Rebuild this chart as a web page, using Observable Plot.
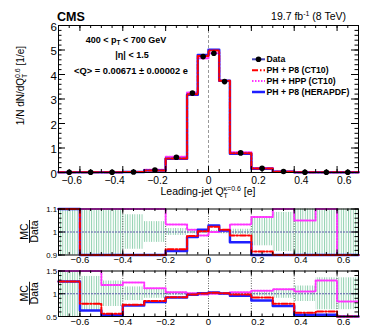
<!DOCTYPE html>
<html><head><meta charset="utf-8">
<script src="https://cdn.jsdelivr.net/npm/d3@7"></script>
<script src="https://cdn.jsdelivr.net/npm/@observablehq/plot@0.6"></script>
<style>
html,body{margin:0;padding:0;background:#fff;}
#chart{position:relative;width:365px;height:326px;overflow:hidden;background:#fff;}
#chart svg{position:absolute;left:0;}
</style></head><body><div id="chart"></div>
<script>
// ---- data ----
const binEdges = [-0.7,-0.6,-0.5,-0.4,-0.3,-0.2,-0.1,-0.05,0,0.05,0.1,0.2,0.3,0.4,0.5,0.6,0.7];
const dataMain  = [0.01,0.01,0.01,0.02,0.10,0.62,3.24,4.73,4.87,3.71,0.80,0.17,0.04,0.01,0.01,0.01];
const ct10Main  = [0.01,0.01,0.01,0.02,0.08,0.57,3.19,4.76,4.98,3.75,0.79,0.16,0.03,0.01,0.01,0.01];
const hppMain   = [0.02,0.02,0.01,0.02,0.11,0.64,3.27,4.66,4.87,3.73,0.83,0.18,0.04,0.01,0.01,0.01];
const heraMain  = [0.01,0.01,0.01,0.02,0.08,0.56,3.17,4.80,5.01,3.74,0.77,0.15,0.03,0.01,0.01,0.01];
// ratios MC/Data
const heraRatio = [1.27,0.63,0.53,0.74,0.82,0.917,0.978,1.010,1.028,1.006,0.955,0.85,0.73,0.54,0.54,0.49];
const ct10Ratio = [1.27,0.78,0.56,0.76,0.84,0.925,0.983,1.003,1.023,1.010,0.985,0.915,0.78,0.58,0.61,0.49];
const hppRatio  = [1.60,1.60,1.19,1.25,1.12,1.033,1.010,0.985,1.000,1.005,1.033,1.065,1.10,1.05,1.29,0.83];
// data uncertainty bands (half widths)
const band1 = [0.5,0.5,0.5,0.075,0.045,0.015,0.008,0.006,0.006,0.008,0.012,0.06,0.085,0.10,0.5,0.5];
const band2 = [0.6,0.38,0.28,0.15,0.10,0.04,0.02,0.015,0.015,0.02,0.03,0.05,0.10,0.17,0.35,0.35];
// ticks
const xMajor = [-0.6,-0.4,-0.2,0,0.2,0.4,0.6];
const yMainTicks = [0,1,2,3,4,5,6];
const yR1Ticks = [0.9,1,1.1];
const yR2Ticks = [0.5,1,1.5];
const legendLabels = ["Data","PH + P8 (CT10)","PH + HPP (CT10)","PH + P8 (HERAPDF)"];

// ---- helpers ----
const FONT = '"Liberation Sans", Arial, Helvetica, sans-serif';
const BLUE = "#1f1fff", RED = "#ff0000", PINK = "#ff33ff";
const stepRows = vals => binEdges.map((e,i)=>({x:e, y: vals[Math.min(i, vals.length-1)]}));
const binRows = (vals, band) => vals.map((v,i)=>({x1: binEdges[i], x2: binEdges[i+1], c:(binEdges[i]+binEdges[i+1])/2, v, lo: 1-(band?band[i]:0), hi: 1+(band?band[i]:0)}));
const fmtX = d => d === 0 ? "0" : (d < 0 ? "\u2212" + Math.abs(d) : String(d));
const xMinor = d3.range(-0.7, 0.7001, 0.05).map(d=>+d.toFixed(3));

function tickMarks(H, W, yMaj, yMin, lx, ly) {
  return [
    Plot.tickX(xMajor, {x:d=>d, insetTop: H-lx[0], strokeWidth:1}),
    Plot.tickX(xMajor, {x:d=>d, insetBottom: H-lx[0], strokeWidth:1}),
    Plot.tickX(xMinor, {x:d=>d, insetTop: H-lx[1], strokeWidth:1}),
    Plot.tickX(xMinor, {x:d=>d, insetBottom: H-lx[1], strokeWidth:1}),
    Plot.tickY(yMaj, {y:d=>d, insetRight: W-ly[0], strokeWidth:1}),
    Plot.tickY(yMaj, {y:d=>d, insetLeft: W-ly[0], strokeWidth:1}),
    Plot.tickY(yMin, {y:d=>d, insetRight: W-ly[1], strokeWidth:1}),
    Plot.tickY(yMin, {y:d=>d, insetLeft: W-ly[1], strokeWidth:1})
  ];
}
function histLines(h, c, hp, wB) {
  return [
    Plot.line(stepRows(hp), {x:"x", y:"y", curve:"step-after", stroke:PINK, strokeWidth:2, strokeDasharray:"1.5,1.5"}),
    Plot.line(stepRows(h),  {x:"x", y:"y", curve:"step-after", stroke:BLUE, strokeWidth:wB}),
    Plot.line(stepRows(c),  {x:"x", y:"y", curve:"step-after", stroke:RED, strokeWidth:2, strokeDasharray:"6,2,1.5,2"})
  ];
}

const chart = document.getElementById("chart");
const W = 300, ML = 58, MR = 7;

// ---- main panel ----
const mainH = 200, mT = 25, mB = 28, Hm = mainH - mT - mB;
const main = Plot.plot({
  width: 365, height: mainH, marginLeft: ML, marginRight: MR, marginTop: mT, marginBottom: mB,
  style: {fontFamily: FONT, background: "transparent", overflow: "visible"},
  x: {domain: [-0.7, 0.7], axis: null},
  y: {domain: [0, 6], axis: null},
  marks: [
    Plot.ruleX([0], {stroke:"#999", strokeDasharray:"3,2", strokeWidth:1}),
    ...histLines(heraMain, ct10Main, hppMain, 2.5),
    Plot.dot(binRows(dataMain), {x:"c", y:"v", r:2.8, fill:"black", stroke:"none"}),
    Plot.frame({stroke:"black", strokeWidth:1}),
    ...tickMarks(Hm, W, yMainTicks, d3.range(0,6.001,0.2), [6,3], [7,3.5]),
    Plot.text(xMajor.filter(d=>d<0), {x:d=>d, frameAnchor:"bottom", lineAnchor:"top", dy:4, dx:2, textAnchor:"end", text:fmtX, fontSize:10.3}),
    Plot.text(xMajor.filter(d=>d===0), {x:d=>d, frameAnchor:"bottom", lineAnchor:"top", dy:4, textAnchor:"middle", text:fmtX, fontSize:10.3}),
    Plot.text(xMajor.filter(d=>d>0), {x:d=>d, frameAnchor:"bottom", lineAnchor:"top", dy:4, textAnchor:"start", text:fmtX, fontSize:10.3}),
    Plot.text(yMainTicks, {y:d=>d, frameAnchor:"left", dx:-1.5, dy:1.5, textAnchor:"end", text:d=>String(d), fontSize:11.5})
  ]
});
main.style.top = "0px";
chart.appendChild(main);

// overlay text on main
(function(){
  const s = d3.select(main);
  const g = s.append("g").attr("font-family", FONT).attr("fill", "black").attr("text-anchor", "start");
  g.append("text").attr("x", 57).attr("y", 21).attr("font-size", 12.5).attr("font-weight", "bold").attr("text-anchor","start").text("CMS");
  const lumi = g.append("text").attr("x", 346).attr("y", 20).attr("font-size", 10.5).attr("text-anchor", "end");
  lumi.append("tspan").text("19.7 fb");
  lumi.append("tspan").attr("font-size", 7).attr("dy", -4).text("-1");
  lumi.append("tspan").attr("dy", 4).text(" (8 TeV)");
  const a1 = g.append("text").attr("x", 126).attr("y", 42.5).attr("font-size", 9).attr("font-weight","bold").attr("text-anchor","middle");
  a1.append("tspan").text("400 < p");
  a1.append("tspan").attr("font-size", 6.5).attr("dy", 2.5).text("T");
  a1.append("tspan").attr("dy", -2.5).text(" < 700 GeV");
  g.append("text").attr("x", 132).attr("y", 58).attr("font-size", 9).attr("font-weight","bold").attr("text-anchor","middle").text("|\u03b7| < 1.5");
  g.append("text").attr("x", 131).attr("y", 73.5).attr("font-size", 9.3).attr("font-weight","bold").attr("text-anchor","middle").text("<Q> = 0.00671 \u00b1 0.00002 e");
  // legend
  const ly = [59.3, 70.3, 81, 92];
  const lg = g.append("g");
  lg.append("line").attr("x1",252).attr("x2",265).attr("y1",ly[0]).attr("y2",ly[0]).attr("stroke","#4848b8").attr("stroke-width",2);
  lg.append("circle").attr("cx",258.5).attr("cy",ly[0]).attr("r",2.8).attr("fill","black");
  lg.append("line").attr("x1",252).attr("x2",265).attr("y1",ly[1]).attr("y2",ly[1]).attr("stroke",RED).attr("stroke-width",2).attr("stroke-dasharray","6,2,1.5,2");
  lg.append("line").attr("x1",252).attr("x2",265).attr("y1",ly[2]).attr("y2",ly[2]).attr("stroke",PINK).attr("stroke-width",2).attr("stroke-dasharray","1.5,1.5");
  lg.append("line").attr("x1",252).attr("x2",265).attr("y1",ly[3]).attr("y2",ly[3]).attr("stroke",BLUE).attr("stroke-width",2.5);
  legendLabels.forEach((t,i)=>{
    lg.append("text").attr("x",266.5).attr("y",ly[i]).attr("dy","0.36em").attr("font-size",8.7).attr("font-weight","bold").attr("text-anchor","start").text(t);
  });
  // y title
  const yt = g.append("text").attr("transform","translate(24,46) rotate(-90)").attr("font-size",10).attr("text-anchor","end");
  yt.append("tspan").text("1/N dN/dQ");
  yt.append("tspan").attr("font-size",7).attr("dy",3).text("T");
  yt.append("tspan").attr("font-size",7).attr("dx",-4.3).attr("dy",-7.5).text("0.6");
  yt.append("tspan").attr("dy",4.5).text(" [1/e]");
  // x title
  const xt = g.append("text").attr("x",208).attr("y",195).attr("font-size",10.5).attr("text-anchor","middle");
  xt.append("tspan").text("Leading-jet Q");
  xt.append("tspan").attr("font-size",7).attr("dy",3).text("T");
  xt.append("tspan").attr("font-size",7).attr("dx",-4.3).attr("dy",-7.5).text("\u03ba=0.6");
  xt.append("tspan").attr("dy",4.5).text(" [e]");
})();

// ---- ratio panels ----
function ratioPanel(top, h, mTop, mBot, ydom, yTicks, yMinor, band, hatchId) {
  const H = h - mTop - mBot;
  const p = Plot.plot({
    width: 365, height: h, marginLeft: ML, marginRight: MR, marginTop: mTop, marginBottom: mBot,
    style: {fontFamily: FONT, background: "transparent", overflow: "visible"},
    x: {domain: [-0.7, 0.7], axis: null},
    y: {domain: ydom, axis: null, clamp: true},
    marks: [
      Plot.rect(binRows(heraRatio, band), {x1:"x1", x2:"x2", y1:"lo", y2:"hi", fill:`url(#${hatchId})`}),
      Plot.ruleX(xMajor, {stroke:"#333", strokeDasharray:"1,1.5", strokeWidth:0.8}),
      Plot.ruleY([1], {stroke:"#5a5aa8", strokeWidth:1, strokeDasharray:"2,1"}),
      ...histLines(heraRatio, ct10Ratio, hppRatio, 2.5),
      Plot.frame({stroke:"black", strokeWidth:1}),
      ...tickMarks(H, W, yTicks, yMinor, [5,2.5], [7,3.5]),
      Plot.text(xMajor.filter(d=>d<=0), {x:d=>d, frameAnchor:"bottom", lineAnchor:"top", dy:1.5, textAnchor:"middle", text:fmtX, fontSize:9.5}),
      Plot.text(xMajor.filter(d=>d>0), {x:d=>d, frameAnchor:"bottom", lineAnchor:"top", dy:1.5, textAnchor:"start", text:fmtX, fontSize:9.5}),
      Plot.text(yTicks, {y:d=>d, frameAnchor:"left", dx:-1.5, dy:0.5, textAnchor:"end", text:d=>String(d), fontSize:7.8})
    ]
  });
  p.style.top = top + "px";
  chart.appendChild(p);
  const s = d3.select(p);
  const pat = s.insert("defs", ":first-child").append("pattern").attr("id", hatchId)
    .attr("patternUnits","userSpaceOnUse").attr("width",2.4).attr("height",4);
  pat.append("rect").attr("x",0).attr("y",0).attr("width",0.9).attr("height",4).attr("fill","#8ccfac");
  const cy = mTop + H/2;
  const g = s.append("g").attr("font-family", FONT).attr("font-size", 10.5);
  g.append("text").attr("transform",`translate(28,${cy}) rotate(-90)`).attr("text-anchor","middle").text("MC");
  g.append("line").attr("x1",29.5).attr("x2",29.5).attr("y1",cy-11.5).attr("y2",cy+11.5).attr("stroke","black").attr("stroke-width",0.9);
  g.append("text").attr("transform",`translate(38,${cy}) rotate(-90)`).attr("text-anchor","middle").text("Data");
}
ratioPanel(200, 65, 8.5, 10.5, [0.9, 1.1], yR1Ticks, d3.range(0.9,1.1001,0.02).map(d=>+d.toFixed(3)), band1, "hatch1");
ratioPanel(262, 64, 8.5, 10, [0.5, 1.5], yR2Ticks, d3.range(0.5,1.5001,0.1).map(d=>+d.toFixed(3)), band2, "hatch2");
</script></body></html>
